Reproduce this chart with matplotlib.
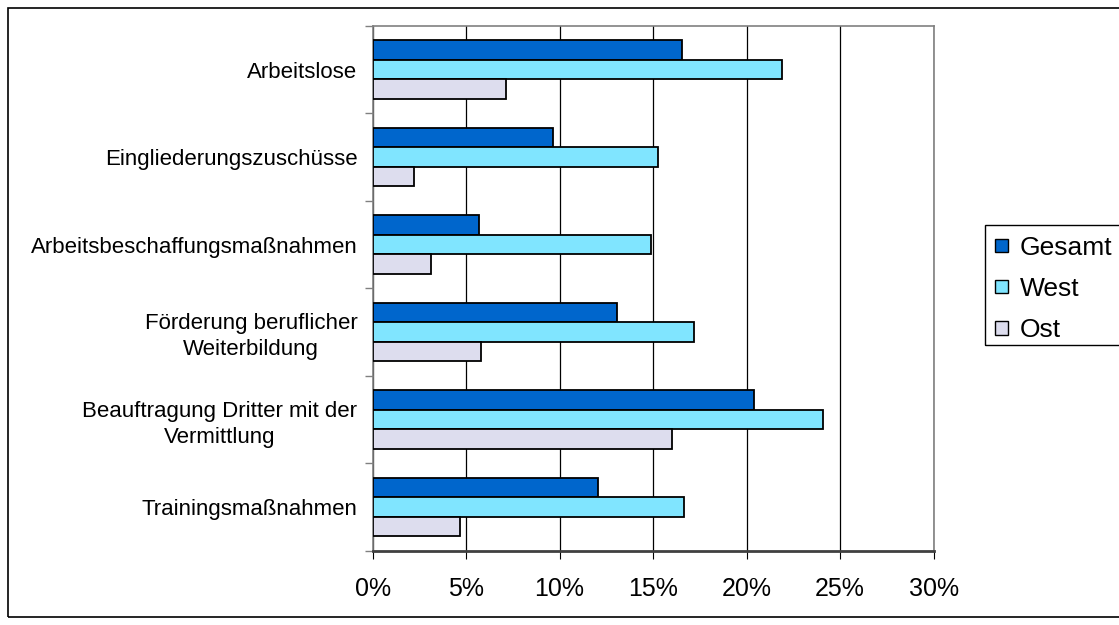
import matplotlib
matplotlib.use("Agg")
import matplotlib.pyplot as plt
from matplotlib.patches import Rectangle, Patch
import numpy as np

plt.rcParams['font.family'] = ['Liberation Sans', 'DejaVu Sans']

categories = ["Arbeitslose", "Eingliederungszuschüsse", "Arbeitsbeschaffungsmaßnahmen",
              "Förderung beruflicher\nWeiterbildung",
              "Beauftragung Dritter mit der\nVermittlung", "Trainingsmaßnahmen"]
series_names = ["Gesamt", "West", "Ost"]
gesamt = [16.55, 9.66, 5.71, 13.05, 20.42, 12.05]
west = [21.9, 15.27, 14.9, 17.19, 24.1, 16.66]
ost = [7.16, 2.21, 3.11, 5.79, 16.02, 4.67]
colors = ["#0066CC", "#80E5FF", "#DDDDEE"]
xticks = [0, 5, 10, 15, 20, 25, 30]
xticklabels = ["0%", "5%", "10%", "15%", "20%", "25%", "30%"]

W, H = 1119, 625
fig = plt.figure(figsize=(W / 100, H / 100), dpi=100)
ax = fig.add_axes([372.6 / W, 1 - 550.5 / H, (933.6 - 372.6) / W, (550.5 - 26) / H])

y = np.arange(len(categories))
h = 0.223
for k, (vals, c, name) in enumerate(zip([gesamt, west, ost], colors, series_names)):
    ax.barh(y + (k - 1) * h, vals, height=h, color=c, edgecolor="black",
            linewidth=1.3, label=name, zorder=3)

ax.set_xlim(0, 30)
ax.set_ylim(len(categories) - 0.5, -0.5)
ax.set_xticks(xticks)
ax.set_xticklabels(xticklabels, fontsize=18)
ax.tick_params(axis="x", direction="out", length=6, width=0.8, color="black", pad=13)
ax.set_yticks(y)
ax.set_yticklabels(categories, fontsize=16, linespacing=1.3, multialignment="center")
ax.tick_params(axis="y", length=0, pad=11)
ax.set_yticks(np.arange(len(categories) + 1) - 0.5, minor=True)
ax.tick_params(axis="y", which="minor", direction="out", length=6, width=1, color="#808080")
ax.xaxis.grid(True, color="black", linewidth=0.9, zorder=0)
ax.set_axisbelow(True)
for s in ["top", "right", "left"]:
    ax.spines[s].set_color("#808080")
    ax.spines[s].set_linewidth(1.2)
ax.spines["bottom"].set_color("#404040")
ax.spines["bottom"].set_linewidth(2)

# outer chart frame
fig.patches.append(Rectangle((7.5 / W, 1 - 617 / H), (1130 - 7.5) / W, (617 - 7.5) / H,
                             transform=fig.transFigure, fill=False, edgecolor="black",
                             linewidth=1.2))

# legend
handles = [Patch(facecolor=c, edgecolor="black", linewidth=1.0) for c in colors]
leg = fig.legend(handles, series_names, loc="upper left",
                 bbox_to_anchor=(995 / W, 1 - 236 / H), frameon=False, fontsize=19,
                 handlelength=0.5, handleheight=0.4, handletextpad=0.45,
                 labelspacing=0.65, borderpad=0, borderaxespad=0)
fig.patches.append(Rectangle((985 / W, 1 - 345 / H), (1130 - 985) / W, (345 - 225) / H,
                             transform=fig.transFigure, fill=False, edgecolor="black",
                             linewidth=1.0))

fig.savefig("out.png", dpi=100)
